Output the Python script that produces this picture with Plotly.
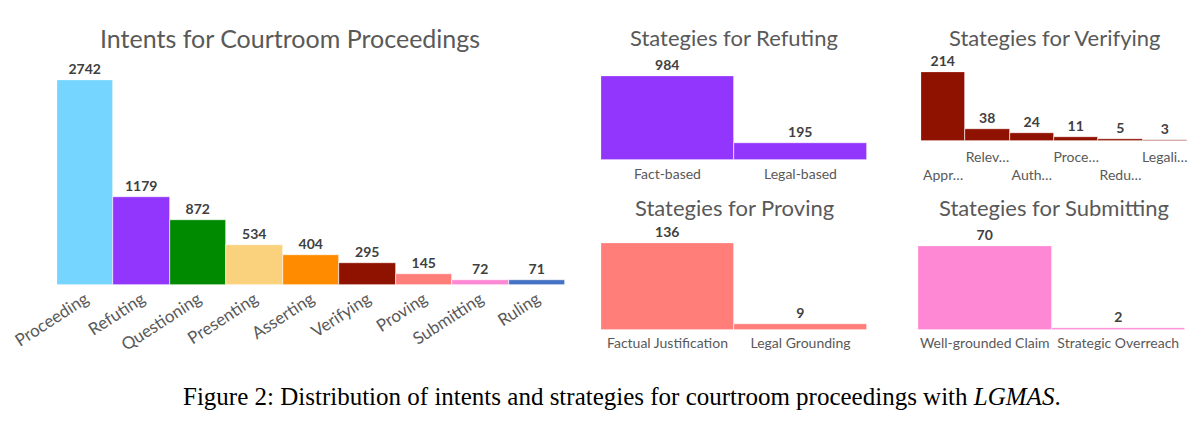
import plotly.graph_objects as go

# main chart
intents = ['Proceeding', 'Refuting', 'Questioning', 'Presenting', 'Asserting',
           'Verifying', 'Proving', 'Submitting', 'Ruling']
intent_counts = [2742, 1179, 872, 534, 404, 295, 145, 72, 71]
intent_colors = ['#75D5FF', '#9336FD', '#008A00', '#FAD27D', '#FF8C00',
                 '#8F1200', '#FF7E79', '#FF88D5', '#4472C4']

# strategies
refute_labels = ['Fact-based', 'Legal-based']
refute_counts = [984, 195]

verify_labels = ['Appr…', 'Relev…', 'Auth…', 'Proce…', 'Redu…', 'Legali…']
verify_counts = [214, 38, 24, 11, 5, 3]

prove_labels = ['Factual Justification', 'Legal Grounding']
prove_counts = [136, 9]

submit_labels = ['Well-grounded Claim', 'Strategic Overreach']
submit_counts = [70, 2]

FONT = 'Lato'
GREY = '#595959'
# the page body keeps its default 8px margin, so the figure is drawn 8px in
OFF = 8
W, H = 1200 - 2 * OFF, 448 - 2 * OFF


def px_x(x):
    return (x - OFF) / W


def px_y(y):
    return 1 - (y - OFF) / H


fig = go.Figure()


def add_bars(labels, counts, color, n, ticktext=None, tickangle=0, tsize=14,
             vsize=14, standoff=4):
    xa = 'x' if n == 1 else 'x%d' % n
    ya = 'y' if n == 1 else 'y%d' % n
    fig.add_trace(go.Bar(
        x=list(range(len(labels))), y=counts, marker_color=color,
        marker_line=dict(color='white', width=0.6),
        text=[str(c) for c in counts], textposition='outside',
        textfont=dict(family=FONT, size=vsize, color='#404040', weight='bold'),
        cliponaxis=False, constraintext='none',
        xaxis=xa, yaxis=ya, showlegend=False, hoverinfo='x+y'))
    return dict(tickmode='array', tickvals=list(range(len(labels))),
                ticktext=ticktext or labels, tickangle=tickangle,
                tickfont=dict(family=FONT, size=tsize, color=GREY),
                ticklabelstandoff=standoff, ticklabeloverflow='allow',
                showgrid=False, zeroline=False, showline=False, ticks='',
                automargin=False, range=[-0.5, len(labels) - 0.5])


def yax(top, dom):
    return dict(range=[0, top], domain=dom, visible=False, showgrid=False,
                zeroline=False, automargin=False)


xa1 = add_bars(intents, intent_counts, intent_colors, 1, tickangle=-33, tsize=17,
               standoff=0)
xa2 = add_bars(refute_labels, refute_counts, '#9336FD', 2, standoff=4)
verify_ticks = [('<br>' + t if i % 2 == 0 else t) for i, t in enumerate(verify_labels)]
xa3 = add_bars(verify_labels, verify_counts, '#8F1200', 3, ticktext=verify_ticks,
               standoff=6)
xa4 = add_bars(prove_labels, prove_counts, '#FF7E79', 4, standoff=3)
xa5 = add_bars(submit_labels, submit_counts, '#FF88D5', 5, standoff=3)

xa1.update(domain=[px_x(57), px_x(565)], anchor='y')
xa2.update(domain=[px_x(601), px_x(867)], anchor='y2')
xa3.update(domain=[px_x(921), px_x(1187)], anchor='y3')
xa4.update(domain=[px_x(601), px_x(867)], anchor='y4')
xa5.update(domain=[px_x(918), px_x(1185)], anchor='y5')

fig.update_layout(
    width=W, height=H, margin=dict(l=0, r=0, t=0, b=0, autoexpand=False),
    paper_bgcolor='white', plot_bgcolor='white', bargap=0,
    xaxis=xa1, xaxis2=xa2, xaxis3=xa3, xaxis4=xa4, xaxis5=xa5,
    yaxis=dict(yax(2742, [px_y(285), px_y(80)]), anchor='x'),
    yaxis2=dict(yax(984, [px_y(160), px_y(76)]), anchor='x2'),
    yaxis3=dict(yax(214, [px_y(141), px_y(72)]), anchor='x3'),
    yaxis4=dict(yax(136, [px_y(330), px_y(243)]), anchor='x4'),
    yaxis5=dict(yax(70, [px_y(330), px_y(246)]), anchor='x5'),
)

titles = [('Intents for Courtroom Proceedings', 290, 38, 25),
          ('Stategies for Refuting', 734, 37, 22),
          ('Stategies for Verifying', 1054, 37, 22),
          ('Stategies for Proving', 734, 207, 22),
          ('Stategies for Submitting', 1054, 207, 22)]
for txt, x, y, s in titles:
    fig.add_annotation(text=txt, x=px_x(x), y=px_y(y), xref='paper', yref='paper',
                       showarrow=False, xanchor='center', yanchor='middle',
                       font=dict(family=FONT, size=s, color=GREY))

fig.add_annotation(
    text='Figure 2: Distribution of intents and strategies for courtroom proceedings with <i>LGMAS</i>.',
    x=px_x(622), y=px_y(396), xref='paper', yref='paper', showarrow=False,
    xanchor='center', yanchor='middle',
    font=dict(family='Liberation Serif', size=25, color='black'))

fig.write_html('out.html')
